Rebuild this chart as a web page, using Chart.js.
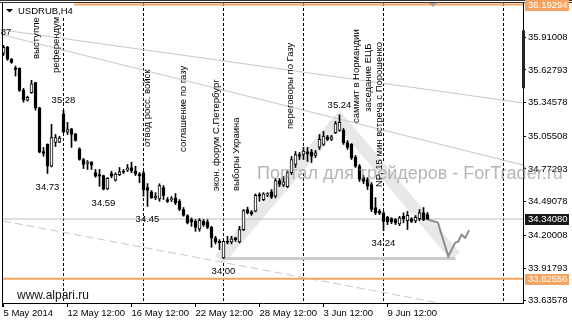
<!DOCTYPE html>
<html><head><meta charset="utf-8">
<script src="https://cdn.jsdelivr.net/npm/chart.js@4.4.1/dist/chart.umd.min.js"></script>
<style>html,body{margin:0;padding:0;background:#fff;overflow:hidden}canvas{display:block}</style>
</head><body>
<canvas id="c" width="572" height="325"></canvas>
<script>
// ---- data (USDRUB, H4) ----
const opens = [35.772,35.824,35.720,35.646,35.642,35.452,35.368,35.432,35.518,35.302,
34.924,34.985,34.797,35.002,35.004,35.250,35.091,35.120,35.077,34.947,
34.855,34.820,34.832,34.742,34.725,34.716,34.601,34.734,34.676,34.723,
34.754,34.763,34.786,34.754,34.731,34.740,34.613,34.576,34.524,34.515,
34.613,34.509,34.509,34.524,34.494,34.423,34.371,34.336,34.321,34.255,
34.321,34.316,34.269,34.178,34.148,34.005,34.148,34.143,34.178,34.143,
34.250,34.423,34.403,34.408,34.552,34.509,34.546,34.576,34.538,34.673,
34.633,34.621,34.742,34.812,34.898,34.898,34.922,34.922,34.890,34.961,
34.985,35.048,35.028,35.086,35.106,35.106,35.002,34.985,34.875,34.797,
34.699,34.682,34.639,34.440,34.408,34.394,34.356,34.345,34.336,34.299,
34.365,34.327,34.342,34.325,34.345,34.394,34.379];
const highs = [35.841,35.832,35.728,35.662,35.646,35.469,35.402,35.538,35.522,35.305,
34.959,34.990,35.158,35.071,35.056,35.280,35.175,35.123,35.080,34.956,
34.864,34.846,34.837,34.769,34.769,34.720,34.699,34.754,34.740,34.786,
34.769,34.812,34.832,34.797,34.742,34.754,34.647,34.587,34.569,34.645,
34.630,34.526,34.535,34.561,34.509,34.440,34.379,34.351,34.336,34.345,
34.336,34.336,34.278,34.192,34.163,34.150,34.192,34.192,34.184,34.278,
34.423,34.443,34.414,34.558,34.567,34.569,34.569,34.595,34.691,34.691,
34.708,34.760,34.881,34.924,34.916,34.959,34.959,34.942,34.933,35.071,
35.097,35.063,35.063,35.184,35.240,35.123,35.019,34.993,34.890,34.812,
34.716,34.699,34.656,34.526,34.423,34.405,34.365,34.353,34.345,34.365,
34.394,34.408,34.353,34.371,34.423,34.440,34.397];
const lows = [35.754,35.711,35.685,35.575,35.443,35.350,35.359,35.426,35.281,34.913,
34.883,34.734,34.790,34.967,35.000,35.086,35.071,34.959,35.013,34.849,
34.777,34.769,34.769,34.702,34.624,34.592,34.595,34.697,34.668,34.716,
34.734,34.751,34.740,34.716,34.654,34.538,34.450,34.518,34.509,34.494,
34.509,34.483,34.492,34.466,34.414,34.365,34.299,34.278,34.235,34.235,
34.278,34.258,34.097,34.126,34.077,34.000,34.126,34.126,34.148,34.134,
34.241,34.385,34.373,34.403,34.494,34.500,34.535,34.518,34.524,34.621,
34.621,34.613,34.725,34.786,34.855,34.855,34.838,34.829,34.872,34.942,
34.976,35.019,35.019,35.080,35.097,34.985,34.942,34.855,34.786,34.665,
34.647,34.595,34.405,34.379,34.379,34.240,34.293,34.301,34.293,34.284,
34.308,34.250,34.310,34.310,34.327,34.327,34.336];
const closes = [35.824,35.720,35.694,35.633,35.452,35.368,35.391,35.509,35.302,34.918,
34.907,34.797,35.045,35.045,35.039,35.091,35.114,35.071,35.019,34.855,
34.812,34.832,34.806,34.710,34.710,34.598,34.693,34.710,34.728,34.749,
34.746,34.783,34.757,34.731,34.716,34.595,34.587,34.524,34.538,34.630,
34.544,34.494,34.515,34.481,34.423,34.373,34.308,34.316,34.269,34.330,
34.293,34.269,34.178,34.143,34.134,34.148,34.140,34.171,34.163,34.250,
34.414,34.394,34.385,34.546,34.538,34.558,34.558,34.529,34.673,34.639,
34.662,34.742,34.855,34.898,34.881,34.927,34.904,34.883,34.913,35.028,
35.056,35.028,35.051,35.164,35.175,35.000,34.959,34.870,34.797,34.682,
34.665,34.624,34.423,34.394,34.391,34.321,34.316,34.316,34.308,34.351,
34.345,34.373,34.321,34.356,34.394,34.336,34.3408];

const timeTickIndex = [0,16,32,48,64,80,96];
const timeTickLabels = ['5 May 2014','12 May 12:00','16 May 12:00','22 May 12:00','28 May 12:00','3 Jun 12:00','9 Jun 12:00'];
const separatorIndex = [15,35,55,75,95,125];
const priceTicks = [35.91008,35.62793,35.34578,35.05508,34.77293,34.49078,34.20008,33.91793,33.63578];
const markedLevels = [36.19294,34.34080,33.82556];

const swingIndex = [-1,11,15,25,36,55,84,95];
const swingPrice = [35.87,34.73,35.28,34.59,34.45,34.00,35.24,34.24];
const swingSide  = ['high','low','high','low','low','low','high','low'];

const eventText = ['выступле','референдум','отвод росс. войск','соглашение по газу','экон. форум С.Петербург','выборы Украина','переговоры по Газу','саммит в Нормандии','заседание ЕЦБ','NP, 15 мин встреча с Порошенко'];
const eventIndex = [8.1,13.1,35.9,45,53.1,58.3,71.6,88.3,91.1,93.9];
const eventPrice = [35.723,35.602,34.963,34.920,34.583,34.583,35.118,35.170,35.265,34.617];

const trendA = [[-0.125,35.973],[129.875,35.343]];
const trendB = [[-0.125,35.930],[129.875,34.807]];
const trendC = [[-0.125,34.324],[129.875,33.480]];
const supportLine = [[55,34.00],[113,34.00]];
const bandPath = [[54,33.99],[84,35.20],[112.9,34.02]];
const forecastPath = [[106.1,34.336],[108.6,34.310],[109.5,34.207],[111.2,34.019],[112.9,34.135],[113.7,34.148],[114.5,34.207],[115.4,34.178],[116.4,34.244]];

// ---- helpers ----
const pts = arr => arr.map(p => ({x:p[0], y:p[1]}));
const xMin = -0.125, xMax = 129.875;
const full = v => [[xMin, v],[xMax, v]];

const wickData = lows.map((l,i)=>({x:i, y:[l, highs[i]]}));
const bodyData = opens.map((o,i)=>({x:i, y:[o, closes[i]]}));
const bodyFill = opens.map((o,i)=> closes[i] > o ? '#ffffff' : '#000000');

const FONT = '"Liberation Sans", Arial, sans-serif';
Chart.defaults.font.family = FONT;

const overlay = {
  id:'overlay',
  beforeDraw(chart){
    const c = chart.ctx; c.save(); c.fillStyle='#fff'; c.fillRect(0,0,chart.width,chart.height); c.restore();
  },
  afterDatasetsDraw(chart){
    const {ctx, chartArea:a, scales:{x,y}} = chart;
    ctx.save();
    // watermark
    ctx.font = '18px ' + FONT;
    ctx.fillStyle = 'rgba(150,150,150,0.7)';
    ctx.textAlign='left'; ctx.textBaseline='alphabetic';
    ctx.fillText('Портал для трейдеров - ForTrader.ru', a.left+254, a.top+176);
    // event annotations (vertical)
    ctx.fillStyle = '#000';
    ctx.font = '9.5px ' + FONT;
    ctx.textBaseline = 'middle'; ctx.textAlign = 'left';
    eventText.forEach((t,i)=>{
      const px = x.getPixelForValue(eventIndex[i]);
      const py = y.getPixelForValue(eventPrice[i]);
      ctx.save(); ctx.translate(px, py); ctx.rotate(-Math.PI/2); ctx.fillText(t,0,0); ctx.restore();
    });
    // swing price labels
    ctx.textAlign='center';
    swingIndex.forEach((k,i)=>{
      const px = x.getPixelForValue(k);
      const py = y.getPixelForValue(swingPrice[i]) + (swingSide[i]==='high' ? -9.5 : 13);
      ctx.fillText(swingPrice[i].toFixed(2), px, py);
    });
    ctx.restore();
  },
  afterDraw(chart){
    const {ctx, chartArea:a, scales:{y}} = chart;
    ctx.save();
    // frame lines
    ctx.strokeStyle='#333'; ctx.lineWidth=1;
    ctx.beginPath(); ctx.moveTo(0,0.5); ctx.lineTo(chart.width,0.5); ctx.stroke();
    ctx.beginPath(); ctx.moveTo(0,2.5); ctx.lineTo(chart.width,2.5); ctx.stroke();
    ctx.strokeStyle='#000';
    ctx.beginPath(); ctx.moveTo(a.left-0.5,a.top); ctx.lineTo(a.left-0.5,a.bottom+4); ctx.stroke();
    // price scale handle
    ctx.fillStyle='#222';
    const h1=y.getPixelForValue(35.97), h2=y.getPixelForValue(35.47);
    ctx.fillRect(a.right-1, h1, 3, h2-h1);
    // chart shift marker
    ctx.fillStyle='#a0a0a0';
    ctx.beginPath(); ctx.moveTo(a.right-94,a.top); ctx.lineTo(a.right-86,a.top); ctx.lineTo(a.right-90,a.top+4); ctx.closePath(); ctx.fill();
    // marked level boxes on the price axis
    const boxFill = ['#f4a460','#1a1a1a','#f4a460'];
    ctx.font='9.5px '+FONT; ctx.textAlign='left'; ctx.textBaseline='middle';
    markedLevels.forEach((v,i)=>{
      const py = y.getPixelForValue(v);
      ctx.fillStyle = boxFill[i];
      ctx.fillRect(a.right+2, Math.round(py)-5, 44, 11);
      ctx.fillStyle='#fff';
      ctx.fillText(v.toFixed(5), a.right+5, Math.round(py)+0.5);
    });
    // header
    ctx.fillStyle='#fff'; ctx.fillRect(a.left, a.top, 71, 13);
    ctx.fillStyle='#000';
    ctx.beginPath(); ctx.moveTo(a.left+3,a.top+6); ctx.lineTo(a.left+10,a.top+6); ctx.lineTo(a.left+6.5,a.top+9.5); ctx.closePath(); ctx.fill();
    ctx.font='9.5px '+FONT; ctx.textBaseline='alphabetic';
    ctx.fillText('USDRUB,H4', a.left+15, a.top+11);
    // broker
    ctx.font='12px '+FONT; ctx.fillStyle='#111';
    ctx.fillText('www.alpari.ru', a.left+14, a.bottom-4);
    ctx.restore();
  }
};

const lineDs = (data, color, width, order, dash) => ({
  type:'line', data: pts(data), borderColor: color, borderWidth: width,
  pointRadius:0, tension:0, fill:false, order, borderDash: dash || [],
  borderCapStyle:'butt', borderJoinStyle:'miter'
});

new Chart(document.getElementById('c'), {
  type:'bar',
  data:{ datasets:[
    lineDs(bandPath, '#e8e8e8', 12, 20),
    lineDs(trendA, '#c8c8c8', 1, 19),
    lineDs(trendB, '#c8c8c8', 1, 18),
    lineDs(trendC, '#c8c8c8', 1, 17, [8,4]),
    lineDs(full(markedLevels[1]), '#bdbdbd', 1, 16),
    lineDs(supportLine, '#cccccc', 3, 15),
    lineDs(full(markedLevels[0]), '#f4a460', 2, 14),
    lineDs(full(markedLevels[2]), '#f4a460', 2, 13),
    lineDs(forecastPath, '#8c8c8c', 2, 5),
    {type:'bar', data: wickData, backgroundColor:'#000', borderWidth:0, barThickness:1, grouped:false, order:2},
    {type:'bar', data: bodyData, backgroundColor: bodyFill, borderColor:'#000', borderWidth:1, barThickness:3, grouped:false, borderSkipped:false, minBarLength:1, order:1}
  ]},
  options:{
    responsive:false, animation:false, devicePixelRatio:1,
    layout:{padding:{left:3, top:3, right:0, bottom:0}},
    plugins:{legend:{display:false}, tooltip:{enabled:false}},
    scales:{
      x:{ type:'linear', position:'bottom', min:xMin, max:xMax, offset:false,
        afterFit: s => { s.height = 22; s.paddingLeft = 0; s.paddingRight = 0; },
        afterBuildTicks: s => { s.ticks = [...timeTickIndex, ...separatorIndex].sort((a,b)=>a-b).map(v=>({value:v})); },
        grid:{ offset:false, drawOnChartArea:true, drawTicks:true, tickLength:4,
          color: c => (c.tick && separatorIndex.includes(c.tick.value)) ? '#000' : 'rgba(0,0,0,0)',
          tickColor: c => (c.tick && timeTickIndex.includes(c.tick.value)) ? '#000' : 'rgba(0,0,0,0)',
          lineWidth:1 },
        border:{ display:true, color:'#000', width:1, dash:[3,2] },
        ticks:{ autoSkip:false, maxRotation:0, minRotation:0, align:'start', padding:1, color:'#000',
          font:{size:9.5, family:FONT},
          callback: v => { const i = timeTickIndex.indexOf(v); return i>=0 ? timeTickLabels[i] : ''; } }
      },
      y:{ type:'linear', position:'right', min:33.616, max:36.206,
        afterFit: s => { s.width = 49; s.paddingTop = 0; s.paddingBottom = 0; },
        afterBuildTicks: s => { s.ticks = priceTicks.map(v=>({value:v})); },
        grid:{ drawOnChartArea:false, drawTicks:true, tickLength:3, tickColor:'#000' },
        border:{ display:true, color:'#000', width:1 },
        ticks:{ padding:2, color:'#000', font:{size:9.5, family:FONT}, callback: v => Number(v).toFixed(5) }
      }
    }
  },
  plugins:[overlay]
});
</script>
</body></html>
